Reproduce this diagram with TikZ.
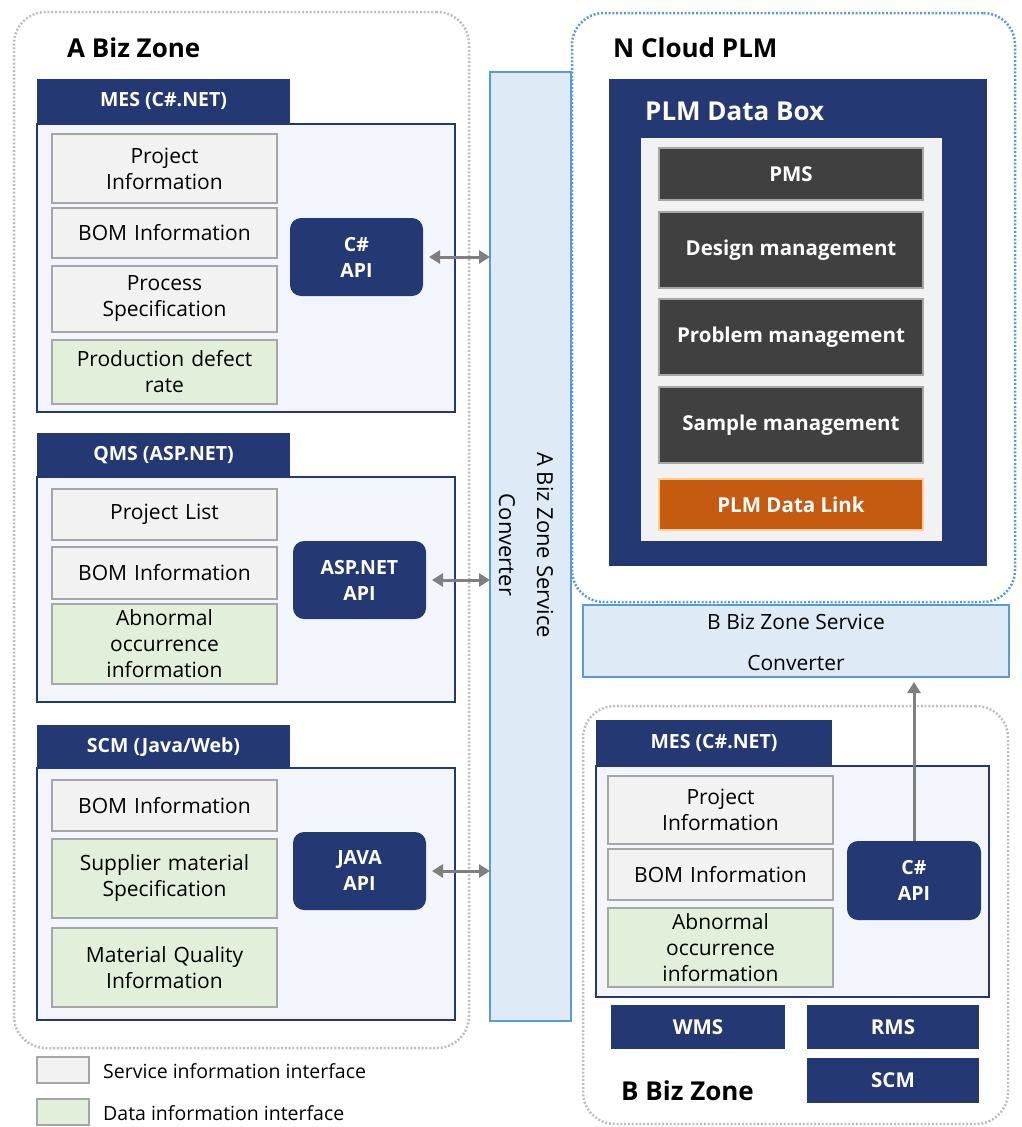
\documentclass[tikz,border=0pt]{standalone}
\usepackage{fontspec}
\setmainfont{Open Sans}
\usetikzlibrary{positioning,arrows.meta}

\definecolor{navy}{HTML}{243873}
\definecolor{itemgray}{HTML}{F2F2F2}
\definecolor{itemgreen}{HTML}{E2EFDA}
\definecolor{edgegray}{HTML}{A6A6A6}
\definecolor{panelblue}{HTML}{F2F6FC}
\definecolor{convblue}{HTML}{DEEBF7}
\definecolor{convedge}{HTML}{5B9BD5}
\definecolor{darkbox}{HTML}{404040}
\definecolor{linkorange}{HTML}{C55A11}
\definecolor{zonegray}{HTML}{BFBFBF}
\definecolor{arrowgray}{HTML}{7F7F7F}

\tikzset{
  box/.style={anchor=north west, inner sep=0pt, outer sep=0pt, align=center},
  item/.style={box, fill=itemgray, draw=edgegray, line width=1.5pt, minimum width=225pt, text width=225pt, font=\fontsize{21}{26}\selectfont},
  dataitem/.style={item, fill=itemgreen},
  headbar/.style={box, fill=navy, text=white, minimum width=253pt, minimum height=44pt, font=\bfseries\fontsize{19.5}{24}\selectfont},
  panel/.style={box, fill=panelblue, draw=navy, line width=1.5pt, minimum width=418pt},
  api/.style={box, fill=navy, rounded corners=11pt, text=white, minimum width=133pt, minimum height=78pt, font=\bfseries\fontsize{19.5}{26}\selectfont},
  zone/.style={box, draw=zonegray, line width=2.5pt, dash pattern=on 2pt off 1.8pt, rounded corners=32pt},
  ztitle/.style={anchor=west, inner sep=0pt, font=\bfseries\fontsize{26}{30}\selectfont},
  conv/.style={box, fill=convblue, draw=convedge, line width=1.5pt},
  mod/.style={box, fill=darkbox, draw=edgegray, line width=1.5pt, text=white, minimum width=264pt, font=\bfseries\fontsize{20.5}{24}\selectfont},
  sys/.style={box, fill=navy, text=white, minimum height=44pt, font=\bfseries\fontsize{20.5}{24}\selectfont},
  apilink/.style={draw=arrowgray, line width=3pt},
  legtext/.style={anchor=west, inner sep=0pt, font=\fontsize{19.5}{24}\selectfont},
}

\begin{document}
\begin{tikzpicture}[x=1pt,y=-1pt]
  \useasboundingbox (0,0) rectangle (1021,1127);

  % A Biz Zone
  \node[zone, minimum width=455pt, minimum height=1036pt] (azone) at (14,12) {};
  \node[ztitle] (atitle) at (67,48) {A Biz Zone};

  \node[headbar] (meshead) at (37,79) {MES (C\#.NET)};
  \node[panel, minimum height=288pt] (mesbody) at (37,124) {};
  \node[item, minimum height=69pt] (mesproj) at (52,134) {Project\\Information};
  \node[item, minimum height=50pt] (mesbom) at (52,208) {BOM Information};
  \node[item, minimum height=66pt] (mesproc) at (52,266) {Process\\Specification};
  \node[dataitem, minimum height=64pt] (mesdefect) at (52,340) {Production defect\\rate};
  \node[api] (csapi) at (290,218) {C\#\\API};

  \node[headbar] (qmshead) at (37,433) {QMS (ASP.NET)};
  \node[panel, minimum height=225pt] (qmsbody) at (37,477) {};
  \node[item, minimum height=51pt] (qmslist) at (52,489) {Project List};
  \node[item, minimum height=52pt] (qmsbom) at (52,547) {BOM Information};
  \node[dataitem, minimum height=80pt] (qmsabn) at (52,604) {Abnormal\\occurrence\\information};
  \node[api] (aspapi) at (293,541) {ASP.NET\\API};

  \node[headbar] (scmhead) at (37,725) {SCM (Java/Web)};
  \node[panel, minimum height=252pt] (scmbody) at (37,768) {};
  \node[item, minimum height=51pt] (scmbom) at (52,780) {BOM Information};
  \node[dataitem, minimum height=79pt] (scmsup) at (52,839) {Supplier material\\Specification};
  \node[dataitem, minimum height=79pt] (scmqual) at (52,928) {Material Quality\\Information};
  \node[api] (javaapi) at (293,832) {JAVA\\API};

  % legend
  \node[item, minimum width=52pt, text width=52pt, minimum height=26pt] (legsvc) at (37,1057) {};
  \node[legtext] (legsvctxt) at (103,1071) {Service information interface};
  \node[dataitem, minimum width=52pt, text width=52pt, minimum height=26pt] (legdata) at (37,1099) {};
  \node[legtext] (legdatatxt) at (103,1113) {Data information interface};

  % A converter
  \node[conv, minimum width=81pt, minimum height=949pt] (aconv) at (490,72) {};
  \node[rotate=-90, align=center, inner sep=0pt, font=\fontsize{22}{38}\selectfont] (aconvtxt) at (526,545) {A Biz Zone Service\\Converter};

  \foreach \src in {csapi,aspapi,javaapi}
    \draw[apilink, {Triangle[length=11pt,width=13pt]}-{Triangle[length=11pt,width=13pt]}, shorten <=6pt] (\src.east) -- (aconv.west |- \src.east);

  % N Cloud PLM
  \node[zone, draw=convedge, minimum width=443pt, minimum height=589pt] (nzone) at (572,13) {};
  \node[ztitle] (ntitle) at (613,48) {N Cloud PLM};
  \node[box, fill=navy, minimum width=378pt, minimum height=487pt] (databox) at (609,79) {};
  \node[ztitle, text=white] (databoxtitle) at (645,111) {PLM Data Box};
  \node[box, fill=itemgray, minimum width=301pt, minimum height=403pt] (datainner) at (641,138) {};
  \foreach \nm/\y/\h/\txt in {pms/148/52pt/PMS, design/212/76pt/Design management, problem/299/76pt/Problem management, sample/387/76pt/Sample management}
    \node[mod, minimum height=\h] (\nm) at (659,\y) {\txt};
  \node[mod, fill=linkorange, draw=orange!40, minimum height=51pt] (plmlink) at (659,479) {PLM Data Link};

  % B converter
  \node[conv, minimum width=426pt, minimum height=72pt] (bconv) at (583,605) {};
  \node[align=center, inner sep=0pt, font=\fontsize{21}{41}\selectfont] (bconvtxt) at (796,642) {B Biz Zone Service\\Converter};

  % B Biz Zone
  \node[zone, minimum width=425pt, minimum height=418pt] (bzone) at (583,706) {};
  \node[headbar, minimum width=236pt, minimum height=46pt] (bmeshead) at (596,720) {MES (C\#.NET)};
  \node[panel, minimum width=393pt, minimum height=231pt] (bmesbody) at (596,766) {};
  \node[item, minimum height=68pt] (bmesproj) at (608,776) {Project\\Information};
  \node[item, minimum height=51pt] (bmesbom) at (608,849) {BOM Information};
  \node[dataitem, minimum height=79pt] (bmesabn) at (608,908) {Abnormal\\occurrence\\information};
  \node[api, minimum width=134pt, minimum height=79pt] (csapib) at (847,841) {C\#\\API};
  \draw[apilink, -{Triangle[length=11pt,width=13pt]}, shorten >=5pt] (csapib.north) -- (bconv.south -| csapib.north);

  \node[sys, minimum width=174pt] (wms) at (611,1005) {WMS};
  \node[sys, minimum width=172pt] (rms) at (807,1005) {RMS};
  \node[sys, minimum width=172pt, minimum height=45pt] (scm) at (807,1058) {SCM};
  \node[ztitle] (btitle) at (621,1091) {B Biz Zone};
\end{tikzpicture}
\end{document}
